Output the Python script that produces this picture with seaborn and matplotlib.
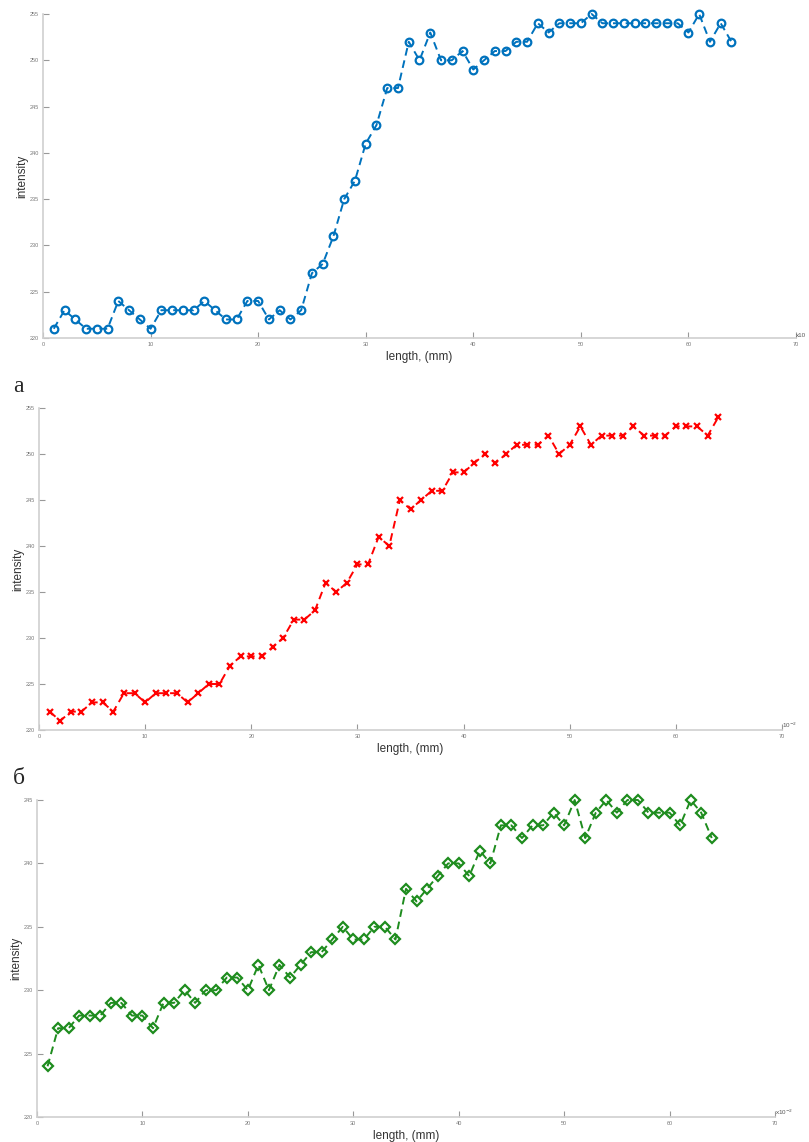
import pandas as pd
import matplotlib
matplotlib.use('Agg')
import matplotlib.pyplot as plt
import seaborn as sns

sns.set_style('ticks')
plt.rcParams['font.family'] = ['Liberation Sans', 'DejaVu Sans']

# data
length = list(range(1, 65))

intensity_a = [221, 223, 222, 221, 221, 221, 224, 223, 222, 221,
               223, 223, 223, 223, 224, 223, 222, 222, 224, 224,
               222, 223, 222, 223, 227, 228, 231, 235, 237, 241,
               243, 247, 247, 252, 250, 253, 250, 250, 251, 249,
               250, 251, 251, 252, 252, 254, 253, 254, 254, 254,
               255, 254, 254, 254, 254, 254, 254, 254, 254, 253,
               255, 252, 254, 252]

intensity_b = [222, 221, 222, 222, 223, 223, 222, 224, 224, 223,
               224, 224, 224, 223, 224, 225, 225, 227, 228, 228,
               228, 229, 230, 232, 232, 233, 236, 235, 236, 238,
               238, 241, 240, 245, 244, 245, 246, 246, 248, 248,
               249, 250, 249, 250, 251, 251, 251, 252, 250, 251,
               253, 251, 252, 252, 252, 253, 252, 252, 252, 253,
               253, 253, 252, 254]

intensity_c = [224, 227, 227, 228, 228, 228, 229, 229, 228, 228,
               227, 229, 229, 230, 229, 230, 230, 231, 231, 230,
               232, 230, 232, 231, 232, 233, 233, 234, 235, 234,
               234, 235, 235, 234, 238, 237, 238, 239, 240, 240,
               239, 241, 240, 243, 243, 242, 243, 243, 244, 243,
               245, 242, 244, 245, 244, 245, 245, 244, 244, 244,
               243, 245, 244, 242]

W, H = 809, 1142
fig = plt.figure(figsize=(W / 100, H / 100), dpi=100)


def make_axes(left, right, top, bottom):
    return fig.add_axes([left / W, 1 - bottom / H, (right - left) / W, (bottom - top) / H])


panels = [
    (make_axes(43, 796, 14, 338), intensity_a, '#0072BD', 'o', 5.5, (220, 255), 'x10'),
    (make_axes(39, 782, 408, 730), intensity_b, '#FF0000', 'x', 4.5, (220, 255), '10$^{-2}$'),
    (make_axes(37, 775, 800, 1117), intensity_c, '#1E8C1E', 'D', 5, (220, 245), 'x10$^{-2}$'),
]

for ax, values, color, marker, msize, ylim, mult in panels:
    df = pd.DataFrame({'length': length, 'intensity': values})
    sns.lineplot(data=df, x='length', y='intensity', ax=ax, color=color,
                 linestyle='--', linewidth=1.4, marker=marker, markersize=msize,
                 markerfacecolor='none', markeredgecolor=color, markeredgewidth=1.6,
                 dashes=False, clip_on=False)
    ax.lines[-1].set_dashes([4, 2.5])
    ax.set_xlim(0, 70)
    ax.set_ylim(*ylim)
    ax.set_xticks(range(0, 71, 10))
    ax.set_yticks(range(ylim[0], ylim[1] + 1, 5))
    ax.tick_params(direction='in', length=4, width=0.8, colors='#999999',
                   labelsize=4, labelcolor='#777777', pad=3)
    for side in ['top', 'right']:
        ax.spines[side].set_visible(False)
    for side in ['left', 'bottom']:
        ax.spines[side].set_color('#d0d0d0')
        ax.spines[side].set_linewidth(1.2)
    ax.set_xlabel('length, (mm)', fontsize=8.5, color='#333333', labelpad=3)
    ax.set_ylabel('intensity', fontsize=8.5, color='#333333', labelpad=1)
    ax.text(1.0, 0.0, mult, transform=ax.transAxes, fontsize=4.5, color='#555555',
            ha='left', va='bottom')

fig.text(13 / W, 1 - 387 / H, 'а', fontsize=17, family='Liberation Serif', va='center')
fig.text(13 / W, 1 - 778 / H, 'б', fontsize=17, family='Liberation Serif', va='center')

fig.savefig('out.png', dpi=100, facecolor='white')
